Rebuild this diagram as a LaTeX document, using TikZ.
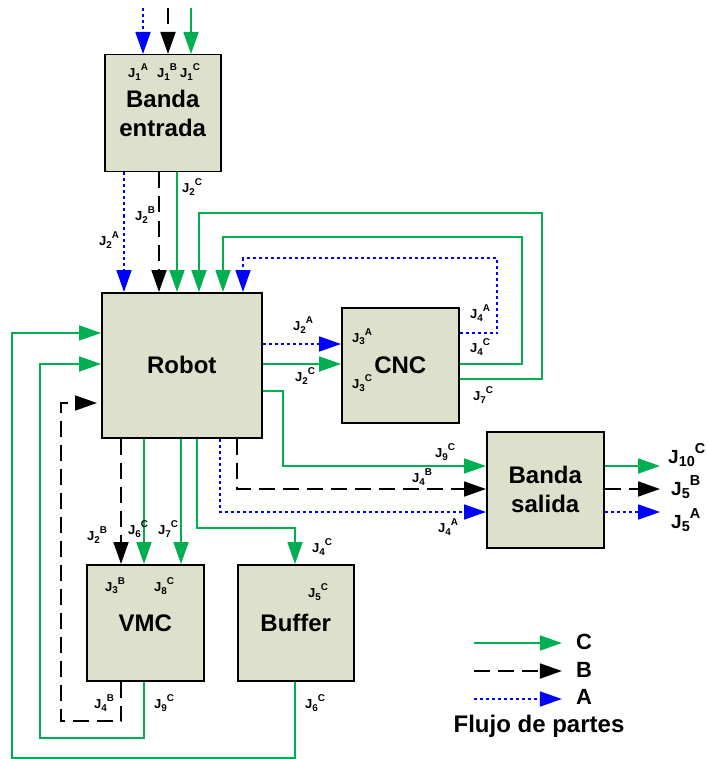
\documentclass[tikz,border=0pt]{standalone}
\usepackage{fontspec}
\setmainfont{Liberation Sans}
\usetikzlibrary{arrows.meta,positioning}
\definecolor{flowgreen}{RGB}{0,176,80}
\definecolor{flowblue}{RGB}{0,0,255}
\definecolor{boxfill}{RGB}{221,224,203}
\newcommand{\jj}[2]{J\raisebox{-.16em}{\scalebox{.76}{#1}}\raisebox{.55em}{\scalebox{.76}{#2}}}
\tikzset{
  block/.style={draw,line width=1.5pt,fill=boxfill,anchor=north west,align=center,
    font=\fontsize{24}{29}\selectfont\bfseries,inner sep=0pt},
  lbl/.style={font=\fontsize{13}{14}\selectfont\bfseries,inner sep=0pt},
  biglbl/.style={font=\fontsize{19}{22}\selectfont\bfseries,inner sep=0pt,anchor=west},
  legtxt/.style={font=\fontsize{22}{24}\selectfont\bfseries,inner sep=0pt},
  flowtip/.style={-{Triangle[length=22pt,width=15pt]}},
  cflow/.style={draw=flowgreen,line width=1.8pt,flowtip},
  bflow/.style={draw=black,line width=1.8pt,dash pattern=on 16pt off 8pt,flowtip},
  aflow/.style={draw=flowblue,line width=1.8pt,dash pattern=on 3pt off 3pt,flowtip},
}
\begin{document}
\begin{tikzpicture}[x=1pt,y=-1pt]
\useasboundingbox (0,0) rectangle (707,759);
% machines
\node[block,minimum width=116pt,minimum height=117pt] (entrada) at (104,54) {Banda\\entrada};
\node[block,minimum width=160pt,minimum height=145pt] (robot) at (101,292) {Robot};
\node[block,minimum width=117pt,minimum height=115pt] (cnc) at (341,307) {CNC};
\node[block,minimum width=117pt,minimum height=116pt] (salida) at (486,431) {Banda\\salida};
\node[block,minimum width=117pt,minimum height=116pt] (vmc) at (86,564) {VMC};
\node[block,minimum width=116pt,minimum height=116pt] (buffer) at (237,564) {Buffer};

% free ends
\coordinate (inA) at (143,8);
\coordinate (inB) at (168,8);
\coordinate (inC) at (191,8);
\coordinate (outC) at (660,466);
\coordinate (outB) at (660,489);
\coordinate (outA) at (660,512);

% entrada
\draw[aflow] (inA) -- (inA |- entrada.north);
\draw[bflow] (inB) -- (inB |- entrada.north);
\draw[cflow] (inC) -- (inC |- entrada.north);
\draw[aflow] (entrada.south -| 124,0) -- (robot.north -| 124,0);
\draw[bflow] (entrada.south -| 159,0) -- (robot.north -| 159,0);
\draw[cflow] (entrada.south -| 177,0) -- (robot.north -| 177,0);

% robot - cnc
\draw[aflow] (robot.east |- 0,344) -- (cnc.west |- 0,344);
\draw[cflow] (robot.east |- 0,364) -- (cnc.west |- 0,364);
\draw[aflow] (cnc.east |- 0,333) -| (497,258) -| (robot.north -| 243,0);
\draw[cflow] (cnc.east |- 0,364) -| (522,237) -| (robot.north -| 223,0);
\draw[cflow] (cnc.east |- 0,379) -| (542,213) -| (robot.north -| 199,0);

% robot - salida
\draw[cflow] (robot.east |- 0,391) -| (283,466) -- (salida.west |- 0,466);
\draw[bflow] (robot.south -| 237,0) |- (salida.west |- 0,489);
\draw[aflow] (robot.south -| 220,0) |- (salida.west |- 0,512);
\draw[cflow] (salida.east |- outC) -- (outC);
\draw[bflow] (salida.east |- outB) -- (outB);
\draw[aflow] (salida.east |- outA) -- (outA);

% robot - vmc / buffer
\draw[bflow] (robot.south -| 121,0) -- (vmc.north -| 121,0);
\draw[cflow] (robot.south -| 144,0) -- (vmc.north -| 144,0);
\draw[cflow] (robot.south -| 181,0) -- (vmc.north -| 181,0);
\draw[cflow] (robot.south -| 197,0) |- (295,528) -- (buffer.north -| 295,0);
\draw[bflow] (vmc.south -| 121,0) -- (121,721) -| (61,403) -- ([xshift=-4pt]robot.west |- 0,403);
\draw[cflow] (vmc.south -| 144,0) |- (40,738) |- (robot.west |- 0,364);
\draw[cflow] (buffer.south -| 295,0) |- (12,758) |- (robot.west |- 0,333);

% labels
\node[lbl] (j1a) at (138,72) {\jj{1}{A}};
\node[lbl] (j1b) at (167,72) {\jj{1}{B}};
\node[lbl] (j1c) at (190,72) {\jj{1}{C}};
\node[lbl] (j2c) at (192,187) {\jj{2}{C}};
\node[lbl] (j2b) at (145,215) {\jj{2}{B}};
\node[lbl] (j2a) at (109,240) {\jj{2}{A}};
\node[lbl] (j2ar) at (303,325) {\jj{2}{A}};
\node[lbl] (j2cr) at (305,376) {\jj{2}{C}};
\node[lbl] (j3a) at (362,337) {\jj{3}{A}};
\node[lbl] (j3c) at (362,383) {\jj{3}{C}};
\node[lbl] (j4a) at (480,313) {\jj{4}{A}};
\node[lbl] (j4c) at (480,347) {\jj{4}{C}};
\node[lbl] (j7c) at (483,395) {\jj{7}{C}};
\node[lbl] (j9c) at (445,452) {\jj{9}{C}};
\node[lbl] (j4b) at (422,477) {\jj{4}{B}};
\node[lbl] (j4as) at (448,527) {\jj{4}{A}};
\node[biglbl] (j10c) at (668,455) {\jj{10}{C}};
\node[biglbl] (j5b) at (671,487) {\jj{5}{B}};
\node[biglbl] (j5a) at (671,520) {\jj{5}{A}};
\node[lbl] (j2bv) at (97,535) {\jj{2}{B}};
\node[lbl] (j6c) at (138,529) {\jj{6}{C}};
\node[lbl] (j7cv) at (168,529) {\jj{7}{C}};
\node[lbl] (j4cb) at (322,547) {\jj{4}{C}};
\node[lbl] (j3b) at (115,586) {\jj{3}{B}};
\node[lbl] (j8c) at (164,586) {\jj{8}{C}};
\node[lbl] (j5c) at (318,592) {\jj{5}{C}};
\node[lbl] (j4bv) at (104,703) {\jj{4}{B}};
\node[lbl] (j9cv) at (164,703) {\jj{9}{C}};
\node[lbl] (j6cb) at (315,703) {\jj{6}{C}};

% legend
\coordinate (legC) at (474,643);
\coordinate (legB) at (474,671);
\coordinate (legA) at (474,699);
\node[legtxt] (legCt) at (584,642) {C};
\node[legtxt] (legBt) at (584,670) {B};
\node[legtxt] (legAt) at (584,697) {A};
\draw[cflow] (legC) -- ([xshift=-14pt]legCt.west |- legC);
\draw[bflow] (legB) -- ([xshift=-14pt]legBt.west |- legB);
\draw[aflow] (legA) -- ([xshift=-14pt]legAt.west |- legA);
\node[legtxt,font=\fontsize{24}{26}\selectfont\bfseries] (flujo) at (539,726) {Flujo de partes};
\end{tikzpicture}
\end{document}
